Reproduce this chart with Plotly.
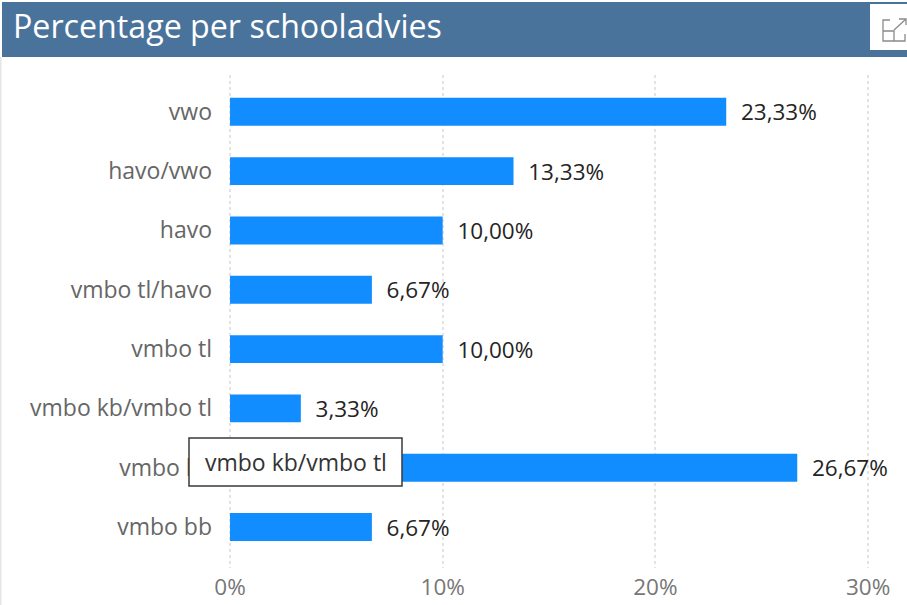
import plotly.graph_objects as go

categories = ["vwo", "havo/vwo", "havo", "vmbo tl/havo", "vmbo tl", "vmbo kb/vmbo tl", "vmbo kb", "vmbo bb"]
values = [23.33, 13.33, 10.00, 6.67, 10.00, 3.33, 26.67, 6.67]
labels = ["23,33%", "13,33%", "10,00%", "6,67%", "10,00%", "3,33%", "26,67%", "6,67%"]
tick_values = [0, 10, 20, 30]
tick_labels = ["0%", "10%", "20%", "30%"]
title = "Percentage per schooladvies"
tooltip = "vmbo kb/vmbo tl"

W, H = 907, 605
L, R, T, B = 213, 0, 75, 37
FONT = "Open Sans"

def px(x):
    return (x - L) / (W - L - R)

def py(y):
    return 1 - (y - T) / (H - T - B)

def rect(x0, y0, x1, y1, fill, line=None, lw=0):
    return dict(type="rect", xref="paper", yref="paper", x0=px(x0), x1=px(x1), y0=py(y0), y1=py(y1),
                fillcolor=fill, line=dict(color=line or fill, width=lw), layer="above")

def path(points, color, lw=1.3):
    d = "M " + " L ".join(f"{px(a)},{py(b)}" for a, b in points)
    return dict(type="path", xref="paper", yref="paper", path=d, line=dict(color=color, width=lw), layer="above")

fig = go.Figure(go.Bar(
    y=categories, x=values, orientation="h", width=0.47,
    marker=dict(color="#118DFF", line_width=0),
    text=labels, texttemplate="\u00a0\u00a0%{text}", textposition="outside", cliponaxis=False,
    constraintext="none",
    textfont=dict(family=FONT, size=22.5, color="#252423"),
))

icon = "#8a8a8a"
shapes = [
    rect(2, 2, W, 57, "#4A739C"),
    rect(870, 4, W, 50, "#FFFFFF"),
    rect(0, 57, 1.5, H, "#E6E6E6"),
    path([(890, 20), (883, 20), (883, 41), (905, 41), (905, 34)], icon),
    path([(883, 31), (894, 31), (894, 41)], icon),
    path([(894, 30), (906, 19)], icon),
    path([(899, 19), (906, 19), (906, 25)], icon),
    rect(189, 438, 402, 486, "#FFFFFF", "#3A3A3A", 1.5),
]

fig.update_layout(
    width=W, height=H, autosize=False,
    margin=dict(l=L, r=R, t=T, b=B),
    paper_bgcolor="white", plot_bgcolor="white",
    showlegend=False, shapes=shapes,
    font=dict(family=FONT),
    annotations=[
        dict(text=title, xref="paper", yref="paper", x=px(11), y=py(25.5), xanchor="left", yanchor="middle",
             showarrow=False, font=dict(family=FONT, size=32.2, color="white")),
        dict(text=tooltip, xref="paper", yref="paper", x=px(295.5), y=py(462), xanchor="center", yanchor="middle",
             showarrow=False, font=dict(family=FONT, size=23, color="#333333")),
    ],
    xaxis=dict(range=[-0.8, 31.83], tickvals=tick_values, ticktext=tick_labels, showline=False, zeroline=False,
               showgrid=True, gridcolor="#E3E3E3", griddash="dot", gridwidth=1.5, ticks="",
               ticklabelstandoff=3,
               tickfont=dict(family=FONT, size=22.5, color="#777777")),
    yaxis=dict(type="category", categoryorder="array", categoryarray=categories, range=[7.69, -0.62],
               showgrid=False, showline=False, zeroline=False, ticks="",
               tickfont=dict(family=FONT, size=23, color="#666666")),
)
fig.write_html("out.html", config=dict(displayModeBar=False),
               post_script="document.body.style.margin='0';document.body.style.overflow='hidden';")
